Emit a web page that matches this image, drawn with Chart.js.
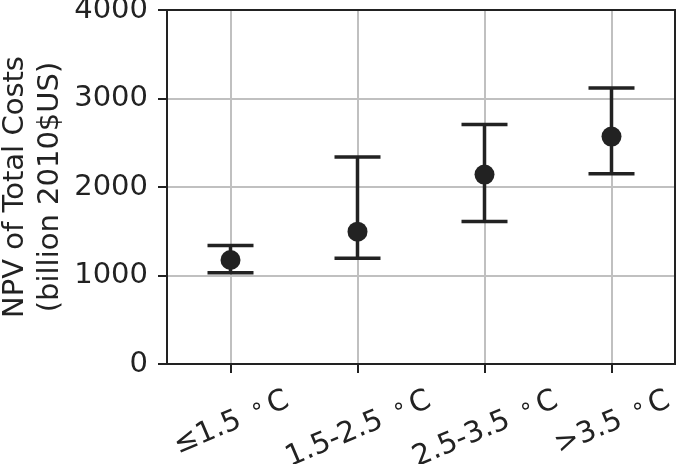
<!DOCTYPE html>
<html>
<head>
<meta charset="utf-8">
<script src="https://cdn.jsdelivr.net/npm/chart.js@4.4.1/dist/chart.umd.min.js"></script>
<style>
  html, body { margin: 0; padding: 0; background: #fff; }
  #wrap { width: 685px; height: 464px; }
</style>
</head>
<body>
<div id="wrap"><canvas id="npvChart" width="685" height="464"></canvas></div>
<script>
// Data
const categories = ['\u22641.5 \u2218C', '1.5-2.5 \u2218C', '2.5-3.5 \u2218C', '>3.5 \u2218C'];
const npvMean = [1175, 1495, 2140, 2570];
const npvLow = [1030, 1195, 1610, 2150];
const npvHigh = [1340, 2340, 2705, 3120];
const yTicks = [0, 1000, 2000, 3000, 4000];
const yTitle = ['NPV of Total Costs', '(billion 2010$US)'];

const ink = '#222222';
const gridGrey = '#c0c0c0';
const fontFamily = "'DejaVu Sans', sans-serif";
const fontSize = 29;

// Error bars: vertical line + caps, drawn through the chart scales
const errorBars = {
    id: 'errorBars',
    beforeDatasetsDraw(chart) {
        const { ctx, scales: { x, y } } = chart;
        ctx.save();
        ctx.strokeStyle = ink;
        ctx.lineWidth = 3.5;
        ctx.lineCap = 'butt';
        npvMean.forEach((v, i) => {
            const px = x.getPixelForValue(i);
            const top = y.getPixelForValue(npvHigh[i]);
            const bot = y.getPixelForValue(npvLow[i]);
            ctx.beginPath();
            ctx.moveTo(px, top);
            ctx.lineTo(px, bot);
            ctx.moveTo(px - 23, top);
            ctx.lineTo(px + 23, top);
            ctx.moveTo(px - 23, bot);
            ctx.lineTo(px + 23, bot);
            ctx.stroke();
        });
        ctx.restore();
    }
};

// Axes frame and rotated, centred category labels (ring drawn small and raised)
const frameAndLabels = {
    id: 'frameAndLabels',
    afterDraw(chart) {
        const { ctx, chartArea: a, scales: { x } } = chart;
        ctx.save();
        ctx.strokeStyle = ink;
        ctx.lineWidth = 2;
        ctx.strokeRect(a.left, a.top, a.right - a.left, a.bottom - a.top);

        ctx.fillStyle = ink;
        ctx.textAlign = 'left';
        ctx.textBaseline = 'alphabetic';
        const mainFont = fontSize + 'px ' + fontFamily;
        const ringFont = Math.round(fontSize * 0.8) + 'px ' + fontFamily;
        const ang = 23 * Math.PI / 180;
        const topY = a.bottom + 19;
        const gapBefore = 4, gapAfter = 4;
        categories.forEach((label, i) => {
            const [pre, post] = label.split('\u2218');
            ctx.font = mainFont;
            const wPre = ctx.measureText(pre).width;
            const wPost = ctx.measureText(post).width;
            ctx.font = ringFont;
            const wRing = ctx.measureText('\u2218').width;
            const w = wPre + gapBefore + wRing + gapAfter + wPost;
            const h = 30;
            const cy = topY + (w * Math.sin(ang) + h * Math.cos(ang)) / 2;
            ctx.save();
            ctx.translate(x.getPixelForTick(i), cy);
            ctx.rotate(-ang);
            let tx = -w / 2;
            const base = 10;
            ctx.font = mainFont;
            ctx.fillText(pre, tx, base);
            tx += wPre + gapBefore;
            ctx.font = ringFont;
            ctx.fillText('\u2218', tx, base - 6);
            tx += wRing + gapAfter;
            ctx.font = mainFont;
            ctx.fillText(post, tx, base);
            ctx.restore();
        });
        ctx.restore();
    }
};

new Chart(document.getElementById('npvChart').getContext('2d'), {
    type: 'line',
    data: {
        labels: categories,
        datasets: [{
            data: npvMean,
            showLine: false,
            pointRadius: 10,
            pointHoverRadius: 10,
            pointBackgroundColor: ink,
            pointBorderColor: ink,
            pointBorderWidth: 0,
        }]
    },
    options: {
        responsive: false,
        animation: false,
        layout: { padding: { left: 0, right: 3, top: 10, bottom: 0 } },
        plugins: {
            legend: { display: false },
            tooltip: { enabled: false },
        },
        scales: {
            x: {
                type: 'category',
                offset: true,
                grid: {
                    offset: false,
                    color: gridGrey,
                    lineWidth: 2,
                    drawTicks: true,
                    tickLength: 9,
                    tickColor: ink,
                    tickWidth: 2,
                },
                border: { display: false },
                ticks: { display: false },
                afterFit(scale) {
                    scale.height = 100;
                    scale.paddingLeft = 0;
                    scale.paddingRight = 0;
                },
            },
            y: {
                min: 0,
                max: 4000,
                afterBuildTicks(scale) {
                    scale.ticks = yTicks.map(v => ({ value: v }));
                },
                grid: {
                    color: gridGrey,
                    lineWidth: 2,
                    drawTicks: true,
                    tickLength: 9,
                    tickColor: ink,
                    tickWidth: 2,
                },
                border: { display: false },
                ticks: {
                    color: ink,
                    padding: 10,
                    font: { family: fontFamily, size: fontSize },
                    callback: v => String(v),
                },
                title: {
                    display: true,
                    text: yTitle,
                    color: ink,
                    padding: { top: -2, bottom: 0 },
                    font: { family: fontFamily, size: fontSize, lineHeight: 1.2 },
                },
                afterFit(scale) {
                    scale.width = 167;
                    scale.paddingTop = 0;
                    scale.paddingBottom = 0;
                },
            }
        }
    },
    plugins: [errorBars, frameAndLabels]
});
</script>
</body>
</html>
